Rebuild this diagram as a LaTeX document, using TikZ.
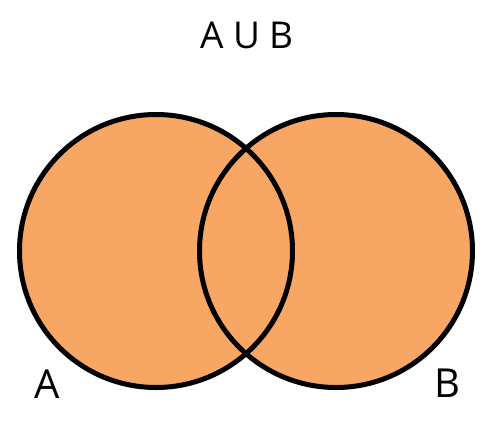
\documentclass[tikz,border=0pt]{standalone}
\usepackage{fontspec}
\setmainfont{Open Sans}
\definecolor{setfill}{RGB}{248,166,100}
\tikzset{
  setcircle/.style={circle, minimum size=273pt, inner sep=0pt, line width=5pt},
  lbl/.style={font=\fontsize{40}{40}\selectfont, inner sep=0pt, anchor=base},
}
\begin{document}
\begin{tikzpicture}[x=1pt,y=-1pt]
\useasboundingbox (0,0) rectangle (500,429);
\node[setcircle, fill=setfill] (fa) at (156,251) {};
\node[setcircle, fill=setfill] (fb) at (336,251) {};
\node[setcircle, draw=black] (ca) at (156,251) {};
\node[setcircle, draw=black] (cb) at (336,251) {};
\node[font=\fontsize{37}{37}\selectfont, inner sep=0pt, anchor=base] (title) at (247,48) {A U B};
\node[lbl] (la) at (47,398) {A};
\node[lbl] (lb) at (447,397) {B};
\end{tikzpicture}
\end{document}
